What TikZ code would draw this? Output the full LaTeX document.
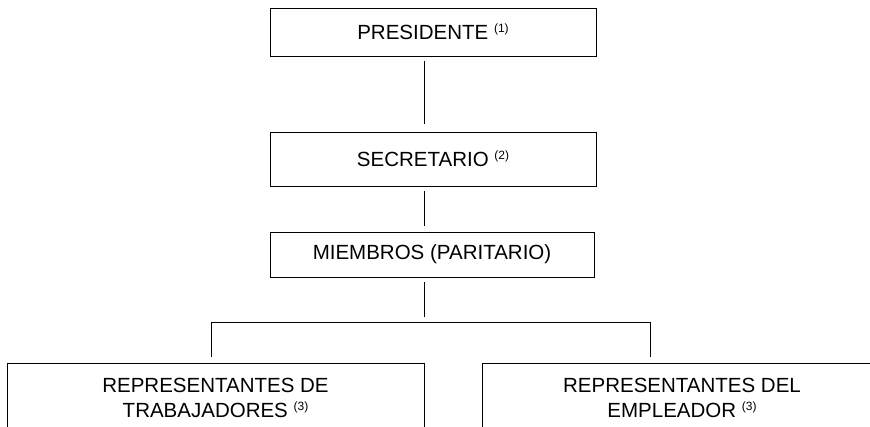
\documentclass[tikz,border=0pt]{standalone}
\usepackage{fontspec}
\setmainfont{Liberation Sans}
\newcommand{\nota}[1]{\raisebox{7pt}{\fontsize{12}{12}\selectfont(#1)}}

\begin{document}
\begin{tikzpicture}[x=1pt,y=1pt,line width=0.9pt,
    caja/.style={draw,rectangle,inner sep=0pt,align=center,
      font=\fontsize{20.5}{25}\selectfont}]
          \clip (0,0) rectangle (870,427);
          \useasboundingbox (0,0) rectangle (870,427);

          \node[caja, minimum width=326pt, minimum height=48pt] (pres) at (433,395) {PRESIDENTE \nota{1}};
          \node[caja, minimum width=326pt, minimum height=54pt] (secr) at (433,268) {SECRETARIO \nota{2}};
          \node[caja, minimum width=324pt, minimum height=45pt] (miem) at (432,172.5) {MIEMBROS (PARITARIO)};
          \node[caja, minimum width=417pt, minimum height=69pt] (trab) at (215.5,29.5) {REPRESENTANTES DE\\TRABAJADORES \nota{3}};
          \node[caja, minimum width=400pt, minimum height=69pt] (empl) at (682,29.5) {REPRESENTANTES DEL\\EMPLEADOR \nota{3}};

          \coordinate (izq) at (211,105);
          \coordinate (der) at (650,105);
          \coordinate (bus) at (424,105);

          \draw[shorten <=5pt, shorten >=8pt] (pres.south -| bus) -- (secr.north -| bus);
          \draw[shorten <=5pt, shorten >=6pt] (secr.south -| bus) -- (miem.north -| bus);
          \draw[shorten <=5pt, shorten >=5pt] (miem.south -| bus) -- (bus);
          \draw (izq) -- (der);
          \draw[shorten >=6pt] (izq) -- (izq |- trab.north);
          \draw[shorten >=6pt] (der) -- (der |- empl.north);

          \end{tikzpicture}
\end{document}
